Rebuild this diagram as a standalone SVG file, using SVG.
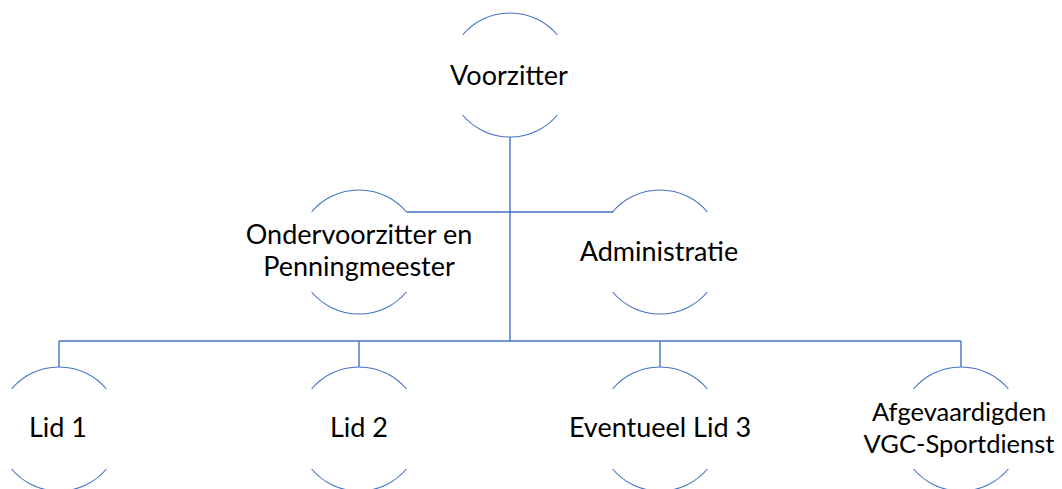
<svg xmlns="http://www.w3.org/2000/svg" width="1062" height="489" viewBox="0 0 1062 489">
<style>
.arc{fill:none;stroke:#4472C4;stroke-width:1.1}
.con{fill:none;stroke:#4472C4;stroke-width:1.4}
text{font-family:Lato,"Open Sans","Liberation Sans",sans-serif;font-size:27px;fill:#000;text-anchor:middle}
.sm{font-size:25.5px}
</style>
<rect width="1062" height="489" fill="#fff"/>
<g id="connectors">
<path class="con" d="M510,137 V341"/>
<path class="con" d="M406.6,212 H613.4"/>
<path class="con" d="M59,341 H961"/>
<path class="con" d="M59,341 V367 M359,341 V367 M660,341 V367 M961,341 V367"/>
</g>
<g id="voorzitter">
<path class="arc" d="M462.6,35 A62,62 0 0 1 557.4,35 M462.6,115 A62,62 0 0 0 557.4,115"/>
<text x="509" y="85">Voorzitter</text>
</g>
<g id="ondervoorzitter">
<path class="arc" d="M311.6,212 A62,62 0 0 1 406.4,212 M311.6,292 A62,62 0 0 0 406.4,292"/>
<text x="359" y="244">Ondervoorzitter en</text>
<text x="359" y="276">Penningmeester</text>
</g>
<g id="administratie">
<path class="arc" d="M612.6,212 A62,62 0 0 1 707.4,212 M612.6,292 A62,62 0 0 0 707.4,292"/>
<text x="659" y="261">Administratie</text>
</g>
<g id="lid1">
<path class="arc" d="M11.6,389 A62,62 0 0 1 106.4,389 M11.6,469 A62,62 0 0 0 106.4,469"/>
<text x="58" y="437">Lid 1</text>
</g>
<g id="lid2">
<path class="arc" d="M311.6,389 A62,62 0 0 1 406.4,389 M311.6,469 A62,62 0 0 0 406.4,469"/>
<text x="359" y="437">Lid 2</text>
</g>
<g id="lid3">
<path class="arc" d="M612.6,389 A62,62 0 0 1 707.4,389 M612.6,469 A62,62 0 0 0 707.4,469"/>
<text x="660" y="437">Eventueel Lid 3</text>
</g>
<g id="afgevaardigden">
<path class="arc" d="M913.6,389 A62,62 0 0 1 1008.4,389 M913.6,469 A62,62 0 0 0 1008.4,469"/>
<text class="sm" x="959" y="421">Afgevaardigden</text>
<text class="sm" x="959" y="453">VGC-Sportdienst</text>
</g>
</svg>
